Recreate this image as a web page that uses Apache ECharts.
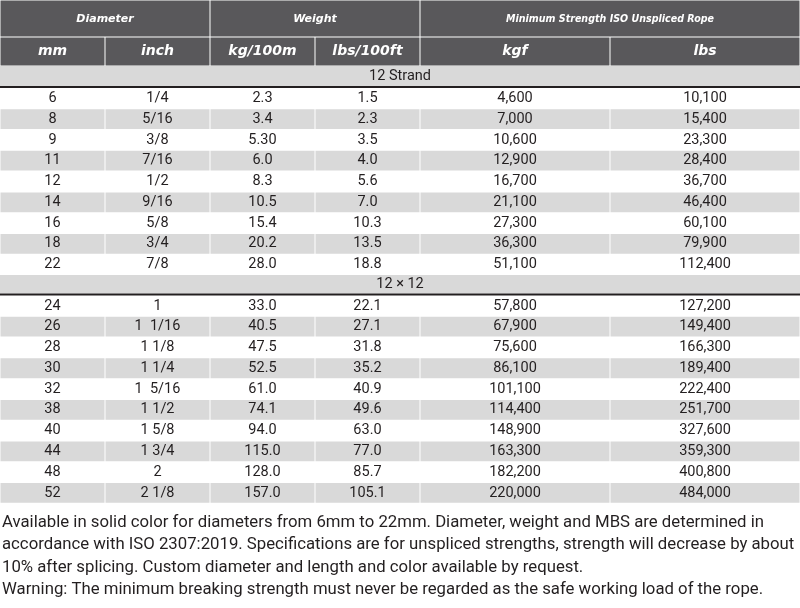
<!DOCTYPE html>
<html><head><meta charset="utf-8">
<script src="https://cdn.jsdelivr.net/npm/echarts@6/dist/echarts.min.js"></script>
<style>html,body{margin:0;padding:0;background:#fff}#c{width:800px;height:608px}</style>
</head><body><div id="c"></div>
<script>
// ---------------- data ----------------
const headerTop = ['Diameter', 'Weight', 'Minimum Strength ISO Unspliced Rope'];
const headerUnits = ['mm', 'inch', 'kg/100m', 'lbs/100ft', 'kgf', 'lbs'];
const groupLabels = ['12 Strand', '12 \u00d7 12'];
const groupSizes = [9, 10];
const mm = [6, 8, 9, 11, 12, 14, 16, 18, 22, 24, 26, 28, 30, 32, 38, 40, 44, 48, 52];
const inch = ['1/4', '5/16', '3/8', '7/16', '1/2', '9/16', '5/8', '3/4', '7/8',
  '1', '1  1/16', '1 1/8', '1 1/4', '1  5/16', '1 1/2', '1 5/8', '1 3/4', '2', '2 1/8'];
const kg100m = ['2.3', '3.4', '5.30', '6.0', '8.3', '10.5', '15.4', '20.2', '28.0',
  '33.0', '40.5', '47.5', '52.5', '61.0', '74.1', '94.0', '115.0', '128.0', '157.0'];
const lbs100ft = ['1.5', '2.3', '3.5', '4.0', '5.6', '7.0', '10.3', '13.5', '18.8',
  '22.1', '27.1', '31.8', '35.2', '40.9', '49.6', '63.0', '77.0', '85.7', '105.1'];
const kgf = [4600, 7000, 10600, 12900, 16700, 21100, 27300, 36300, 51100,
  57800, 67900, 75600, 86100, 101100, 114400, 148900, 163300, 182200, 220000];
const lbs = [10100, 15400, 23300, 28400, 36700, 46400, 60100, 79900, 112400,
  127200, 149400, 166300, 189400, 222400, 251700, 327600, 359300, 400800, 484000];
const footerLines = [
  'Available in solid color for diameters from 6mm to 22mm. Diameter, weight and MBS are determined in',
  'accordance with ISO 2307:2019. Specifications are for unspliced strengths, strength will decrease by about',
  '10% after splicing. Custom diameter and length and color available by request.',
  'Warning: The minimum breaking strength must never be regarded as the safe working load of the rope.'
];

// ---------------- layout / style ----------------
const COLS = [0, 105, 210, 315, 420, 610, 800];
const TOP_SPANS = [[0, 2], [2, 4], [4, 6]];
const H1 = 37, H2 = 29, GROUP_H = [20, 18.5], RULE_H = 2, ROW_H = 20.78;
const C = { head: '#59585b', band: '#d9d9d9', rule: '#231f20', text: '#231f20' };
const INSET = { h1: [0.5, 0.5], h2: [0.5, 0.5], grp: [0, 0], rule: [0, 0], body: [0.5, 0.5] };
const TS = {
  h1: { color: '#fff', size: 11, family: '"DejaVu Sans"', weight: 'bold', style: 'italic', dy: 0.5 },
  h2: { color: '#fff', size: 14, family: '"DejaVu Sans"', weight: 'bold', style: 'italic', dy: 0 },
  grp: { color: C.text, size: 14.5, family: 'Roboto', weight: 'normal', style: 'normal', dy: 0 },
  body: { color: C.text, size: 14.5, family: 'Roboto', weight: 'normal', style: 'normal', dy: 0 }
};
const MS_HEADER_W = 208;
const FOOT = { x: 2, y0: 523, lh: 22.2, size: 17, family: 'Roboto', width0: 762 };

const mctx = document.createElement('canvas').getContext('2d');
function measure(t, size, family, weight, style) {
  mctx.font = style + ' ' + weight + ' ' + size + 'px ' + family;
  return mctx.measureText(t).width;
}
const fmt = v => v.toLocaleString('en-US');

// ---------------- build cells ----------------
const cells = [];
function add(x0, x1, y0, y1, fill, text, kind, fit) { cells.push({ x0, x1, y0, y1, fill, text, kind, fit }); }
TOP_SPANS.forEach((s, i) => add(COLS[s[0]], COLS[s[1]], 0, H1, C.head, headerTop[i], 'h1', i === 2 ? MS_HEADER_W : 0));
headerUnits.forEach((u, i) => add(COLS[i], COLS[i + 1], H1, H1 + H2, C.head, u, 'h2'));
let y = H1 + H2, r = 0;
groupLabels.forEach((g, gi) => {
  add(COLS[0], COLS[6], y, y + GROUP_H[gi], C.band, g, 'grp'); y += GROUP_H[gi];
  add(COLS[0], COLS[6], y, y + RULE_H, C.rule, '', 'rule'); y += RULE_H;
  for (let k = 0; k < groupSizes[gi]; k++, r++) {
    const shaded = k % 2 === 1;
    const vals = [String(mm[r]), inch[r], kg100m[r], lbs100ft[r], fmt(kgf[r]), fmt(lbs[r])];
    vals.forEach((v, ci) => add(COLS[ci], COLS[ci + 1], y, y + ROW_H, shaded ? C.band : null, v, 'body'));
    y += ROW_H;
  }
});

const footScale = FOOT.width0 / measure(footerLines[0], FOOT.size, FOOT.family, 'normal', 'normal');

const chart = echarts.init(document.getElementById('c'));
chart.setOption({
  animation: false,
  grid: { left: 0, right: 0, top: 0, bottom: 0 },
  xAxis: { type: 'value', min: 0, max: 800, show: false },
  yAxis: { type: 'value', min: 0, max: 608, inverse: true, show: false },
  series: [{
    type: 'custom',
    coordinateSystem: 'cartesian2d',
    data: cells.map(c => [c.x0, c.x1, c.y0, c.y1]),
    renderItem(params, api) {
      const c = cells[params.dataIndex];
      const p0 = api.coord([api.value(0), api.value(2)]);
      const p1 = api.coord([api.value(1), api.value(3)]);
      const children = [];
      if (c.fill) {
        const ins = INSET[c.kind];
        children.push({ type: 'rect', shape: { x: p0[0] + ins[0], y: p0[1] + ins[1], width: p1[0] - p0[0] - 2 * ins[0], height: p1[1] - p0[1] - 2 * ins[1] }, style: { fill: c.fill } });
      }
      if (c.text) {
        const ts = TS[c.kind];
        let sx = 1;
        if (c.fit) sx = c.fit / measure(c.text, ts.size, ts.family, ts.weight, ts.style);
        children.push({ type: 'text', x: (p0[0] + p1[0]) / 2, y: (p0[1] + p1[1]) / 2 + ts.dy, scaleX: sx,
          style: { text: c.text, fill: ts.color, fontSize: ts.size, fontFamily: ts.family, fontWeight: ts.weight, fontStyle: ts.style, align: 'center', verticalAlign: 'middle' } });
      }
      return { type: 'group', children };
    }
  }],
  graphic: footerLines.map((t, i) => ({
    type: 'text', x: FOOT.x, y: FOOT.y0 + i * FOOT.lh, scaleX: footScale,
    style: { text: t, fill: C.text, fontSize: FOOT.size, fontFamily: FOOT.family, verticalAlign: 'middle', align: 'left' }
  }))
});
</script></body></html>
